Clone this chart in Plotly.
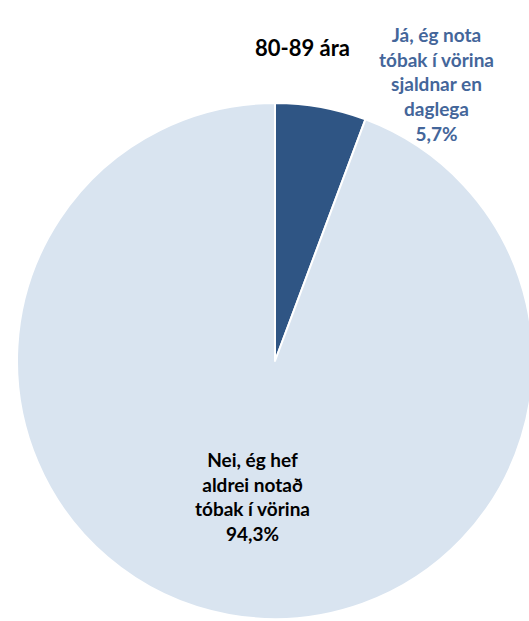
import plotly.graph_objects as go

# Data
categories = ["Já, ég nota<br>tóbak í vörina<br>sjaldnar en<br>daglega",
              "Nei, ég hef<br>aldrei notað<br>tóbak í vörina"]
values = [5.7, 94.3]
pct_labels = ["5,7%", "94,3%"]
title_text = "80-89 ára"

W, H = 560, 621
colors = ["#2F5584", "#D9E4F0"]
font = "Lato, 'Open Sans', sans-serif"

fig = go.Figure(go.Pie(
    values=values,
    labels=[c.replace("<br>", " ") for c in categories],
    sort=False,
    direction="clockwise",
    rotation=0,
    marker=dict(colors=colors, line=dict(color="white", width=2)),
    textinfo="none",
    hoverinfo="label+percent",
    showlegend=False,
    domain=dict(x=[17 / W, 533 / W], y=[2 / H, 518 / H]),
))

def px(x, y):
    return x / W, 1 - y / H

label_pos = [(436, 84), (252, 496)]
label_colors = ["#44669A", "#000000"]
annotations = []
for cat, pct, (x, y), col in zip(categories, pct_labels, label_pos, label_colors):
    ax, ay = px(x, y)
    annotations.append(dict(
        text="<b>" + cat + "<br>" + pct + "</b>",
        x=ax, y=ay, xref="paper", yref="paper",
        xanchor="center", yanchor="middle", showarrow=False,
        font=dict(family=font, size=19, color=col), align="center",
    ))
tx, ty = px(302, 47)
annotations.append(dict(
    text="<b>" + title_text + "</b>", x=tx, y=ty, xref="paper", yref="paper",
    xanchor="center", yanchor="middle", showarrow=False,
    font=dict(family=font, size=22, color="#000000"),
))

fig.update_layout(
    width=W, height=H,
    margin=dict(l=0, r=0, t=0, b=0),
    paper_bgcolor="white", plot_bgcolor="white",
    annotations=annotations,
)

fig.write_html(
    "out.html",
    config={"displayModeBar": False},
    post_script="document.body.style.margin='0';document.body.style.overflow='hidden';"
                "document.documentElement.style.overflow='hidden';",
)
